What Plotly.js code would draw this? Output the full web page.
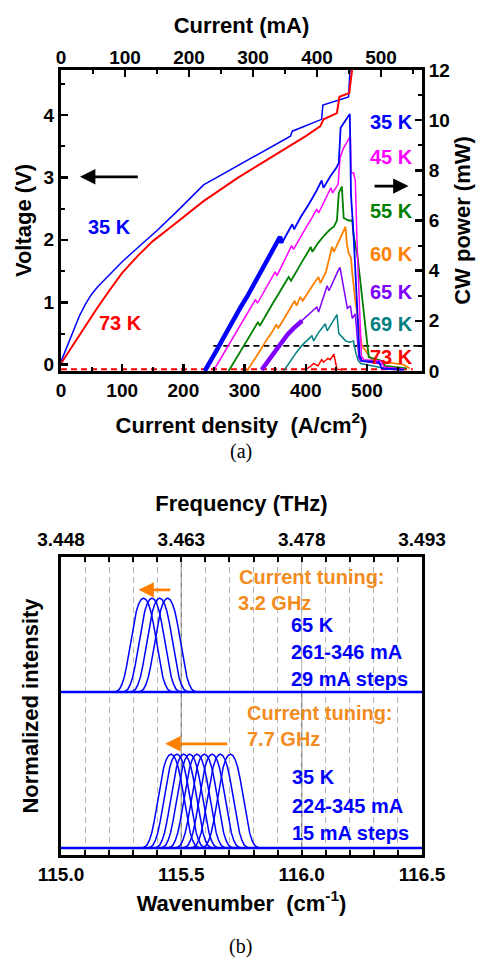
<!DOCTYPE html>
<html><head><meta charset="utf-8">
<script src="https://cdn.plot.ly/plotly-3.0.1.min.js"></script>
<style>html,body{margin:0;padding:0;background:#fff;} #chart{width:482px;height:958px;}</style>
</head><body><div id="chart"></div>
<script>
// ===== Panel (a): voltage vs current density =====
const iv35J = [0,10,20,30,40,50,60,72,85,100,118,136,157,190,233,260,300,342,375,378,400,426,428,450,470,473];
const iv35V = [0.05,0.3,0.55,0.78,0.97,1.13,1.25,1.37,1.5,1.65,1.81,1.97,2.15,2.46,2.88,3.03,3.25,3.47,3.66,3.74,3.83,3.93,4.16,4.23,4.29,4.85];
const iv73J = [0,10,20,30,45,60,80,100,125,150,175,200,233,260,290,320,342,375,400,424,429,451,455,471,473,478];
const iv73V = [0.02,0.17,0.33,0.48,0.7,0.92,1.2,1.47,1.74,1.98,2.17,2.37,2.62,2.8,3.0,3.18,3.31,3.5,3.66,3.82,3.93,4.03,4.29,4.35,4.51,4.9];

// ===== Panel (a): CW power vs current density =====
const p35J = [235,245,255,265,275,285,295,305,315,325,335,345,355,358,361,370,378,381,392,405,418,426,429,440,450,454,457,472,474,478,481,485,488,492,520,524,560];
const p35P = [0,0.4,0.85,1.3,1.75,2.2,2.6,3.0,3.45,3.9,4.3,4.75,5.2,5.35,5.1,5.5,5.85,5.65,6.15,6.65,7.2,7.6,7.3,7.75,8.1,8.3,9.7,10.25,7.0,5.5,4.0,2.2,0.6,0.4,0.35,0.1,0.05];
const p45J = [249,260,270,280,290,300,310,318,321,330,342,350,353,362,372,377,380,390,400,410,418,421,430,441,444,453,456,462,473,474,478,481,484,488,491,495,524,528,560];
const p45P = [0,0.45,0.9,1.3,1.7,2.1,2.5,2.85,2.7,3.1,3.6,3.95,3.8,4.25,4.7,5.0,4.85,5.3,5.7,6.1,6.45,6.3,6.75,7.3,7.1,7.45,8.5,8.9,9.35,7.9,7.9,7.6,5.0,2.0,0.6,0.45,0.4,0.15,0.08];
const p55J = [274,285,295,305,315,322,325,335,345,355,365,372,376,385,395,405,408,411,420,430,440,446,451,454,459,462,470,476,478,485,492,497,503,525,530,565];
const p55P = [0,0.45,0.85,1.25,1.65,1.95,1.8,2.25,2.65,3.05,3.45,3.75,3.6,4.0,4.4,4.8,4.95,4.75,5.1,5.4,5.65,5.75,6.0,7.1,7.35,6.1,6.0,6.0,5.45,4.5,2.9,1.7,0.55,0.4,0.2,0.1];
const p60J = [304,315,325,335,345,352,355,365,375,382,385,391,395,405,415,421,424,433,438,443,446,455,462,465,467,470,474,476,481,487,492,497,506,530,560,570];
const p60P = [0,0.4,0.8,1.2,1.55,1.85,1.7,2.1,2.5,2.8,2.6,2.95,2.8,3.2,3.55,3.75,3.5,3.95,4.5,4.95,4.75,5.2,5.6,5.75,5.1,4.7,4.5,3.9,2.8,1.75,0.95,0.85,0.5,0.35,0.25,0.1];
const p65J = [328,340,350,360,370,380,394,405,415,418,421,428,435,438,445,452,456,460,465,468,473,476,481,484,487,490,527,530,560];
const p65P = [0.05,0.45,0.8,1.15,1.45,1.7,2.0,2.25,2.45,2.55,2.35,2.85,3.4,3.2,3.6,3.95,4.13,3.6,2.8,2.5,2.6,2.1,2.27,1.5,0.5,0.4,0.27,0.08,0.05];
const p69J = [364,375,385,395,405,410,413,420,428,432,435,443,451,454,460,465,472,478,482,486,490,520,560];
const p69P = [0,0.4,0.75,1.05,1.3,1.4,1.2,1.5,1.75,1.88,1.6,1.9,2.25,1.5,1.35,1.2,1.15,1.2,0.7,0.4,0.3,0.15,0.05];
const p73J = [399,406,413,420,426,429,436,440,446,451,460];
const p73P = [0.05,0.15,0.3,0.2,0.45,0.35,0.5,0.45,0.67,0.07,0.05];
const p73BaseJ = [0,575];
const p73BaseP = [0.07,0.07];
const refLineJ = [249,590];
const refLineP = [1,1];

// ===== Panel (b): spectra =====
const centers35K = [115.457,115.482,115.510,115.535,115.565,115.596,115.628,115.662,115.704];
const centers65K = [115.343,115.378,115.410,115.443];
const profileOffset = [-0.12,-0.11,-0.10,-0.09,-0.08,-0.07,-0.06,-0.05,-0.04,-0.03,-0.02,-0.01,0,0.01,0.02,0.03,0.04,0.05,0.06,0.07,0.08,0.09,0.10,0.11,0.12];
const profileValue  = [0,0.01,0.03,0.08,0.16,0.28,0.43,0.59,0.74,0.86,0.94,0.985,1,0.985,0.94,0.86,0.74,0.59,0.43,0.28,0.16,0.08,0.03,0.01,0];
const wnTicks = [115.0,115.5,116.0,116.5];
const wnTickText = ['115.0','115.5','116.0','116.5'];
const freqTickText = ['3.448','3.463','3.478','3.493'];

const C = {b:'#0000FF', m:'#FF00FF', g:'#008000', o:'#FF8000', p:'#8000FF', t:'#008080', r:'#FF0000'};
const ORANGE_TXT = '#F28C1E';
const FONT = 'Arial, "Liberation Sans", sans-serif';

function tr(x, y, color, width, xa, ya, dash) {
  return {x:x, y:y, type:'scatter', mode:'lines', xaxis:xa, yaxis:ya, hoverinfo:'skip',
          line:{color:color, width:width, dash:dash||'solid'}};
}
function filt(J, P, maxJ) {
  const x=[], y=[];
  J.forEach((j,i)=>{ if (j<=maxJ){x.push(j); y.push(P[i]);} });
  return [x,y];
}

const traces = [];
// panel a
traces.push(tr(p73BaseJ, p73BaseP, C.r, 2, 'x', 'y2', '6px,4px'));
traces.push(tr(refLineJ, refLineP, '#000', 1.8, 'x', 'y2', '6px,4px'));
traces.push(tr(p69J, p69P, C.t, 1.5, 'x', 'y2'));
traces.push(tr(p65J, p65P, C.p, 1.5, 'x', 'y2'));
let th = filt(p65J, p65P, 394); traces.push(tr(th[0], th[1], C.p, 4.5, 'x', 'y2'));
traces.push(tr(p60J, p60P, C.o, 1.8, 'x', 'y2'));
traces.push(tr(p55J, p55P, C.g, 1.8, 'x', 'y2'));
traces.push(tr(p45J, p45P, C.m, 1.5, 'x', 'y2'));
traces.push(tr(p35J, p35P, C.b, 1.8, 'x', 'y2'));
th = filt(p35J, p35P, 361); traces.push(tr(th[0], th[1], C.b, 4.5, 'x', 'y2'));
traces.push(tr(p73J, p73P, C.r, 1.5, 'x', 'y2'));
traces.push(tr(iv35J, iv35V, C.b, 1.5, 'x', 'y'));
traces.push(tr(iv73J, iv73V, C.r, 2, 'x', 'y'));
traces.push({x:[0,564], y:[null,null], type:'scatter', mode:'lines', xaxis:'x2', yaxis:'y', hoverinfo:'skip', line:{width:0}});

// panel b
const base65 = 1.662;
function spectra(centers, base) {
  centers.forEach(c => {
    const x = [115.0], y = [base];
    profileOffset.forEach((o,i)=>{ x.push(c+o); y.push(base+profileValue[i]); });
    x.push(116.5); y.push(base);
    traces.push(tr(x, y, C.b, 1.5, 'x3', 'y3'));
  });
  traces.push(tr([115.0,116.5], [base,base], C.b, 2.5, 'x3', 'y3'));
}
spectra(centers35K, 0);
spectra(centers65K, base65);
traces.push({x:[115,116.5], y:[null,null], type:'scatter', mode:'lines', xaxis:'x4', yaxis:'y3', hoverinfo:'skip', line:{width:0}});

const tickFont = {family:FONT, size:19, color:'#000', weight:'bold'};
const titleFont = {family:FONT, size:22, color:'#000', weight:'bold'};
const axBase = {showline:true, linecolor:'#000', linewidth:3, ticks:'inside', ticklen:7, tickwidth:2.5,
  tickcolor:'#000', tickfont:tickFont, showgrid:false, zeroline:false, automargin:false, fixedrange:true};

const topDom = [0.6166, 1], botDom = [0, 0.3796];

function ann(text, x, y, xref, yref, color, xanchor, size) {
  return {text:text, x:x, y:y, xref:xref, yref:yref, showarrow:false, xanchor:xanchor||'left', yanchor:'middle',
    font:{family:FONT, size:size||20, color:color, weight:'bold'}};
}
function arrow(x, y, ax, ay, xref, yref, color) {
  return {x:x, y:y, ax:ax, ay:ay, xref:xref, yref:yref, axref:xref, ayref:yref, text:'', showarrow:true,
    arrowhead:2, arrowsize:1.1, arrowwidth:2.8, arrowcolor:color};
}

const annotations = [
  ann('35 K', 579, 9.93, 'x', 'y2', C.b, 'right'),
  ann('45 K', 579, 8.53, 'x', 'y2', C.m, 'right'),
  ann('55 K', 579, 6.36, 'x', 'y2', C.g, 'right'),
  ann('60 K', 579, 4.67, 'x', 'y2', C.o, 'right'),
  ann('65 K', 579, 3.13, 'x', 'y2', C.p, 'right'),
  ann('69 K', 579, 1.87, 'x', 'y2', C.t, 'right'),
  ann('73 K', 579, 0.56, 'x', 'y2', C.r, 'right'),
  ann('35 K', 78.6, 2.21, 'x', 'y', C.b, 'center'),
  ann('73 K', 96.6, 0.67, 'x', 'y', C.r, 'center'),
  arrow(31, 3.01, 128, 3.01, 'x', 'y', '#000'),
  arrow(568, 7.37, 510, 7.37, 'x', 'y2', '#000'),
  // panel b
  arrow(115.322, 2.75, 115.46, 2.75, 'x3', 'y3', '#FF8000'),
  arrow(115.433, 1.11, 115.697, 1.11, 'x3', 'y3', '#FF8000'),
  ann('Current tuning:', 115.732, 2.886, 'x3', 'y3', ORANGE_TXT),
  ann('3.2 GHz', 115.729, 2.61, 'x3', 'y3', ORANGE_TXT),
  ann('65 K', 115.947, 2.372, 'x3', 'y3', C.b),
  ann('261-346 mA', 115.947, 2.088, 'x3', 'y3', C.b),
  ann('29 mA steps', 115.947, 1.805, 'x3', 'y3', C.b),
  ann('Current tuning:', 115.764, 1.433, 'x3', 'y3', ORANGE_TXT),
  ann('7.7 GHz', 115.764, 1.156, 'x3', 'y3', ORANGE_TXT),
  ann('35 K', 115.951, 0.752, 'x3', 'y3', C.b),
  ann('224-345 mA', 115.951, 0.447, 'x3', 'y3', C.b),
  ann('15 mA steps', 115.951, 0.163, 'x3', 'y3', C.b),
  {text:'(a)', x:0.4986, y:0.5134, xref:'paper', yref:'paper', showarrow:false, xanchor:'center', yanchor:'middle',
   font:{family:'"Times New Roman", "Liberation Serif", serif', size:20, color:'#000'}},
  {text:'(b)', x:0.4986, y:-0.116, xref:'paper', yref:'paper', showarrow:false, xanchor:'center', yanchor:'middle',
   font:{family:'"Times New Roman", "Liberation Serif", serif', size:20, color:'#000'}}
];

const minorWn = {dtick:0.1, tick0:115, ticklen:5, tickwidth:2, ticks:'inside', tickcolor:'#000'};

const layout = {
  width:482, height:958, margin:{l:61, r:60, t:70, b:103},
  paper_bgcolor:'#fff', plot_bgcolor:'#fff', showlegend:false,
  font:{family:FONT, size:19, color:'#000'},
  xaxis: Object.assign({}, axBase, {domain:[0,1], anchor:'y', range:[0,590], dtick:100, tick0:0,
    minor:{dtick:50, ticklen:4, tickwidth:2, ticks:'inside', tickcolor:'#000'},
    title:{text:'Current density  (A/cm<sup>2</sup>)', font:titleFont, standoff:18}}),
  xaxis2: Object.assign({}, axBase, {overlaying:'x', side:'top', anchor:'y', range:[0,564], dtick:100, tick0:0,
    ticklabelstandoff:-5,
    minor:{dtick:50, ticklen:4, tickwidth:2, ticks:'inside', tickcolor:'#000'},
    title:{text:'Current (mA)', font:titleFont, standoff:8}}),
  yaxis: Object.assign({}, axBase, {domain:topDom, anchor:'x', range:[-0.1,4.72], dtick:1, tick0:0,
    minor:{dtick:0.5, ticklen:4, tickwidth:2, ticks:'inside', tickcolor:'#000'},
    title:{text:'Voltage (V)', font:titleFont, standoff:6}}),
  yaxis2: Object.assign({}, axBase, {overlaying:'y', side:'right', anchor:'x', range:[0,12], dtick:2, tick0:0,
    minor:{dtick:1, ticklen:4, tickwidth:2, ticks:'inside', tickcolor:'#000'},
    title:{text:'CW power (mW)', font:titleFont, standoff:6}}),
  xaxis3: Object.assign({}, axBase, {domain:[0,1], anchor:'y3', range:[115,116.5], tickmode:'array',
    tickvals:wnTicks, ticktext:wnTickText, ticklen:5, tickwidth:2,
    minor:Object.assign({}, minorWn, {showgrid:true, gridcolor:'#b4b4b4', gridwidth:1, griddash:'6px,4px'}),
    title:{text:'Wavenumber  (cm<sup>-1</sup>)', font:titleFont, standoff:12}}),
  xaxis4: Object.assign({}, axBase, {overlaying:'x3', side:'top', anchor:'y3', range:[115,116.5], tickmode:'array',
    tickvals:wnTicks, ticktext:freqTickText, ticklen:5, tickwidth:2, minor:minorWn,
    title:{text:'Frequency (THz)', font:titleFont, standoff:12}}),
  yaxis3: Object.assign({}, axBase, {domain:botDom, anchor:'x3', range:[-0.075,3.1], mirror:true,
    ticks:'', showticklabels:false,
    title:{text:'Normalized intensity', font:titleFont, standoff:14}}),
  shapes:[
    {type:'line', xref:'x3', yref:'y3', x0:115.5, x1:115.5, y0:-0.075, y1:3.1, layer:'below', line:{color:'#7a7a7a', width:1.3}},
    {type:'line', xref:'x3', yref:'y3', x0:116.0, x1:116.0, y0:-0.075, y1:1.72, layer:'below', line:{color:'#7a7a7a', width:1.3}},
    {type:'line', xref:'x3', yref:'y3', x0:116.0, x1:116.0, y0:1.72, y1:3.1, layer:'below', line:{color:'#b4b4b4', width:1, dash:'6px,4px'}}
  ],
  annotations:annotations
};

Plotly.newPlot('chart', traces, layout, {displayModeBar:false, staticPlot:true});
</script>
</body></html>
